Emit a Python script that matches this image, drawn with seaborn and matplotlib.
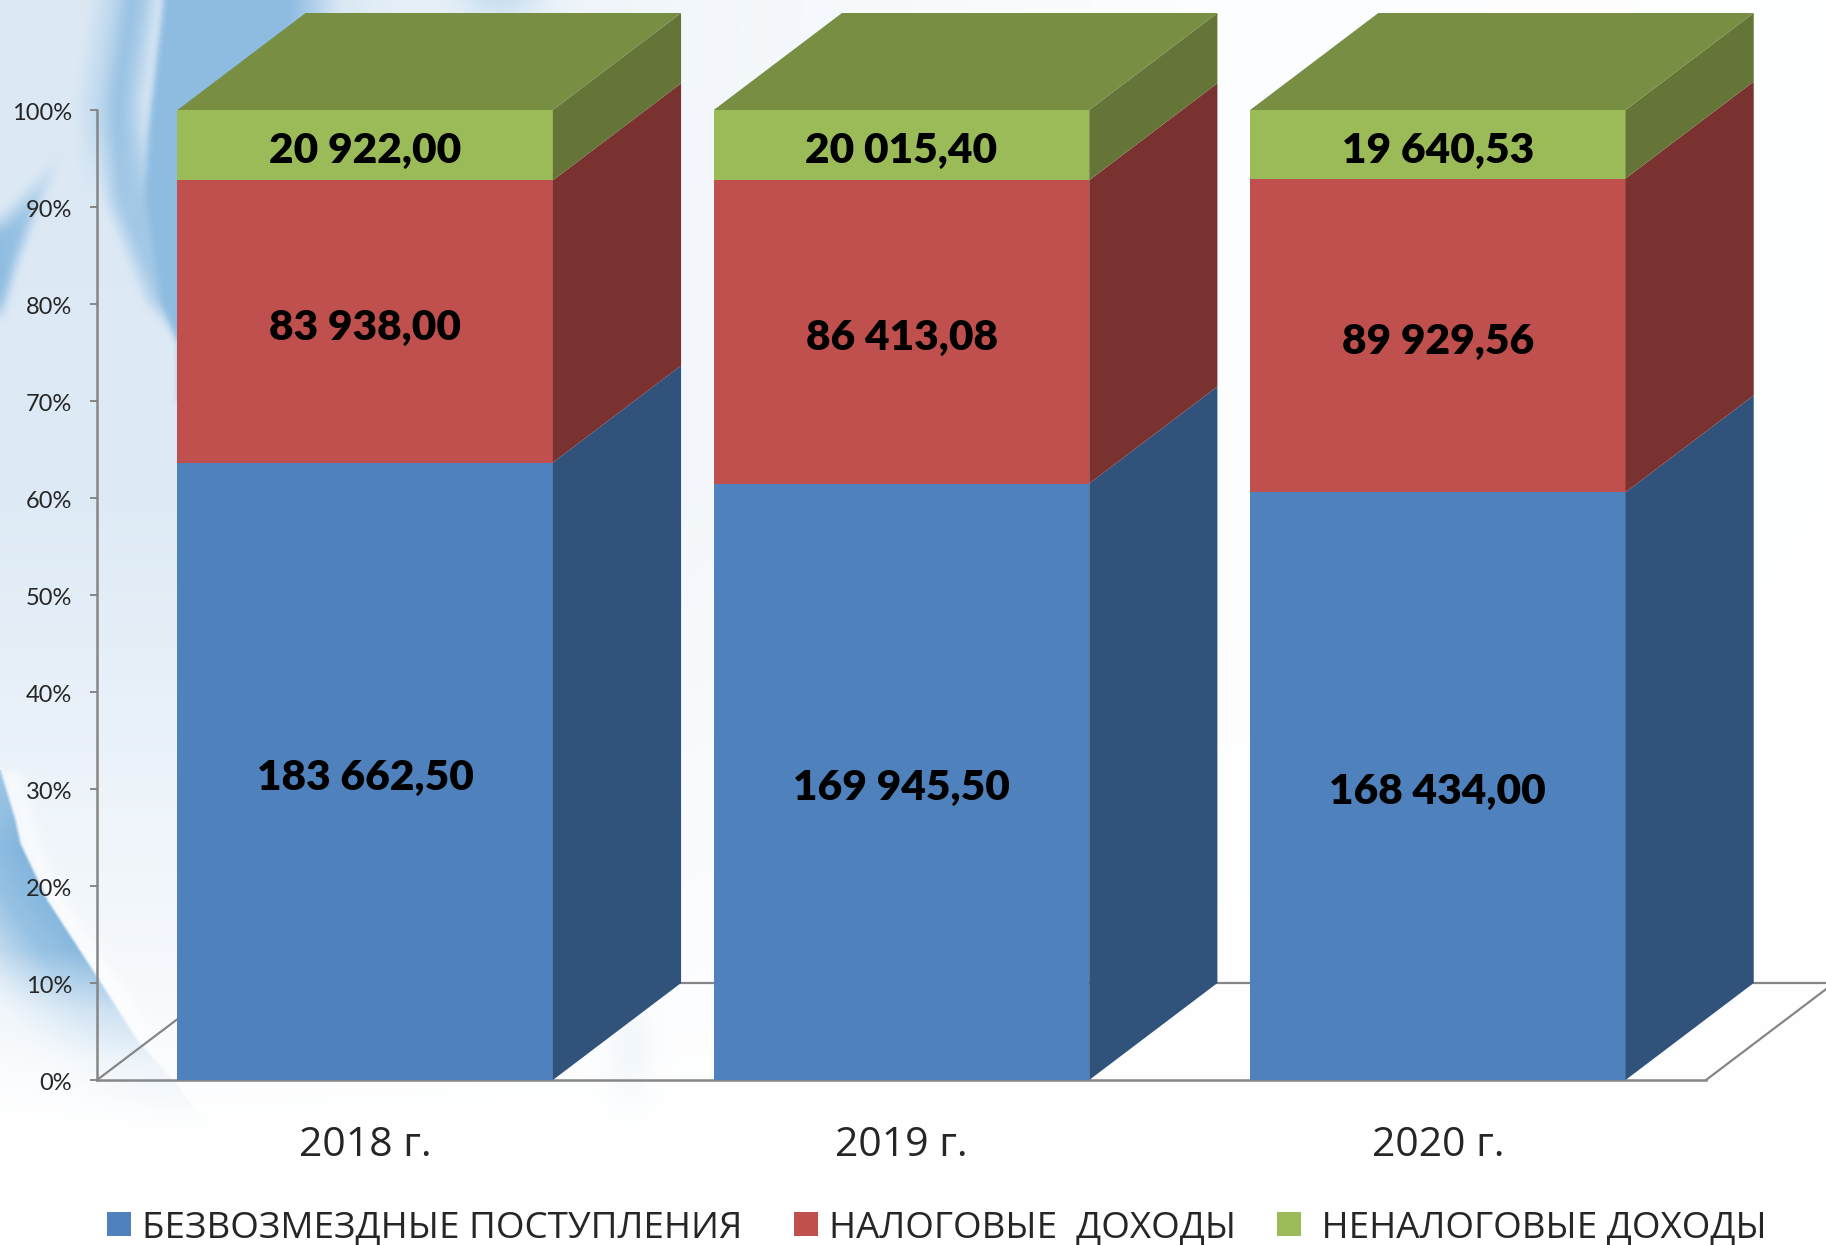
import numpy as np
import pandas as pd
import matplotlib
matplotlib.use("Agg")
import matplotlib.pyplot as plt
import seaborn as sns
from matplotlib.colors import to_rgb
from matplotlib.patches import Patch
from matplotlib.transforms import ScaledTranslation

# Values from the chart (thousand rubles)
years = ["2018 г.", "2019 г.", "2020 г."]
grants = [183662.50, 169945.50, 168434.00]
tax = [83938.00, 86413.08, 89929.56]
non_tax = [20922.00, 20015.40, 19640.53]
grant_labels = ["183 662,50", "169 945,50", "168 434,00"]
tax_labels = ["83 938,00", "86 413,08", "89 929,56"]
non_tax_labels = ["20 922,00", "20 015,40", "19 640,53"]
series_names = ["БЕЗВОЗМЕЗДНЫЕ ПОСТУПЛЕНИЯ", "НАЛОГОВЫЕ  ДОХОДЫ", " НЕНАЛОГОВЫЕ ДОХОДЫ"]

front_colors = ["#4F81BD", "#C0504D", "#9BBB59"]
side_colors = ["#31527A", "#7A3230", "#647537"]
top_color = "#788F43"
axis_color = "#868686"

bar_width = 0.7
depth_x = 0.239
depth_y = 10

W, H = 1826, 1245
sns.set_style("white")
plt.rcParams["font.family"] = ["Open Sans", "DejaVu Sans"]

# Stack as percent of the yearly total
df = pd.DataFrame({"year": years, "grants": grants, "tax": tax, "non_tax": non_tax})
cols = ["grants", "tax", "non_tax"]
shares = df[cols].div(df[cols].sum(axis=1), axis=0) * 100
tops = shares.cumsum(axis=1)
bottoms = tops - shares

fig = plt.figure(figsize=(W / 100, H / 100), dpi=100)


def blend(img, color, alpha):
    alpha = np.clip(alpha, 0, 1)[..., None]
    return img * (1 - alpha) + np.array(to_rgb(color)) * alpha


def soften(a, r):
    # box blur, run twice, only over the part of the slide where the swirl lives
    rows, columns = np.nonzero(a)
    top, bottom = max(rows.min() - 3 * r, 0), min(rows.max() + 3 * r, a.shape[0])
    left, right = max(columns.min() - 3 * r, 0), min(columns.max() + 3 * r, a.shape[1])
    part = a[top:bottom, left:right]
    kernel = np.ones(2 * r + 1) / (2 * r + 1)
    for _ in range(2):
        part = np.apply_along_axis(lambda v: np.convolve(np.pad(v, r, mode="edge"), kernel, mode="valid"), 0, part)
        part = np.apply_along_axis(lambda v: np.convolve(np.pad(v, r, mode="edge"), kernel, mode="valid"), 1, part)
    out = np.zeros_like(a)
    out[top:bottom, left:right] = part
    return out


# Slide background: pale wash with blue swirls, all in pixel coordinates
def make_background():
    y, x = np.mgrid[0:H, 0:W].astype(float)
    img = np.ones((H, W, 3))
    wash = np.interp(x, [0, 178, 680, 1200, 1826], [1, 1, 0.35, 0.08, 0.03])
    wash = wash * np.interp(y, [0, 500, 700, 950, 1130], [1, 0.95, 0.65, 0.3, 0])
    img = blend(img, "#DCE9F5", wash)

    # crescent at the top left
    left_edge = np.interp(y, [0, 100, 200, 300, 345, 400], [112, 97, 100, 140, 178, 230])
    inner_edge = np.interp(y, [0, 130, 200, 300, 345], [163, 148, 145, 160, 178])
    d = x - left_edge
    ridge = np.interp(d, [-25, 0, 20, 32, 48], [0, 0.35, 0.85, 0.6, 0.06])
    streak = np.interp(y, [0, 130, 200], [1, 0.9, 0])
    between = ridge * streak + (1 - streak) * 0.7 * np.clip(d / 20, 0, 1)
    main = np.interp(x, [0, 290, 340, 400], [0.95, 0.95, 0.1, 0])
    crescent = np.where(x < inner_edge, between, main)
    crescent = np.where(y > 400, 0, crescent)
    img = blend(img, "#8ABAE0", soften(crescent, 3))

    # light band above the first bar
    img = blend(img, "#A9CDE8", 0.5 * np.exp(-(((x - 500) / 40) ** 2)) * np.clip((40 - y) / 40, 0, 1))

    # wing at the left edge
    upper = np.interp(x, [0, 70], [212, 140])
    lower = np.interp(x, [0, 15, 35, 70], [320, 270, 215, 140])
    wing = np.clip((y - upper) / 25, 0, 1) * np.clip((lower - y) / 12, 0, 1) * np.clip(1 - x / 75, 0, 1) ** 0.5
    img = blend(img, "#8ABAE0", soften(wing * 0.95, 5))

    # arc at the bottom left
    arc_x = np.interp(y, [770, 820, 843, 900, 977, 1040, 1080, 1123], [0, 15, 20, 47, 97, 137, 173, 207])
    dist = arc_x - x
    strength = np.interp(y, [770, 850, 950, 1010, 1060, 1130], [0.7, 0.95, 0.9, 0.35, 0.12, 0])
    arc = np.interp(dist, [-2, 2, 40, 110, 200], [0, 1, 0.85, 0.2, 0]) * strength
    arc = np.where(y < 770, 0, arc)
    halo = np.exp(-(((x - arc_x - 10) / 10) ** 2)) * np.where((y > 770) & (y < 1040), 0.6, 0)
    img = blend(img, "#FFFFFF", soften(halo, 3))
    img = blend(img, "#7DB2DC", arc)

    # faint streak on the floor between the first two bars
    floor = 0.09 * np.exp(-(((x - 630) / 22) ** 2)) * np.exp(-(((y - 1050) / 50) ** 2))
    return blend(img, "#8ABAE0", floor)


bg = fig.add_axes([0, 0, 1, 1], zorder=0)
bg.imshow(make_background(), aspect="auto")
bg.axis("off")

ax = fig.add_axes([97 / W, 1 - 1080 / H, (1706 - 97) / W, 970 / H], zorder=1)
ax.patch.set_alpha(0)

# Floor outline behind the bars
floor_x = [-0.5, -0.5 + depth_x, 2.5 + depth_x, 2.5]
floor_y = [0, depth_y, depth_y, 0]
ax.plot(floor_x, floor_y, color=axis_color, lw=1.6, clip_on=False, zorder=1)

# Front faces: layered bars, tallest first
for col, color in reversed(list(zip(cols, front_colors))):
    sns.barplot(x=df["year"], y=tops[col], color=color, width=bar_width, saturation=1,
                linewidth=0, ax=ax, zorder=3)

# Right side and top faces
for i in range(len(years)):
    x0 = i + bar_width / 2
    for col, color in zip(cols, side_colors):
        lo = bottoms[col].iloc[i]
        hi = tops[col].iloc[i]
        ax.fill([x0, x0 + depth_x, x0 + depth_x, x0], [lo, lo + depth_y, hi + depth_y, hi],
                color=color, lw=0, clip_on=False, zorder=3)
    x1 = i - bar_width / 2
    ax.fill([x1, x1 + depth_x, x0 + depth_x, x0], [100, 100 + depth_y, 100 + depth_y, 100],
            color=top_color, lw=0, clip_on=False, zorder=3)

# Value labels
for col, labels in zip(cols, [grant_labels, tax_labels, non_tax_labels]):
    for i, label in enumerate(labels):
        mid = (bottoms[col].iloc[i] + tops[col].iloc[i]) / 2
        ax.annotate(label, (i, mid), xytext=(0, -4.5), textcoords="offset points",
                    ha="center", va="center", fontsize=30.5, fontweight="heavy",
                    family="Lato", color="black", zorder=5)

ax.set_xlim(-0.5, 2.5)
ax.set_ylim(0, 100)
ax.set_xlabel("")
ax.set_ylabel("")
ax.set_yticks(range(0, 101, 10))
ax.set_yticklabels([f"{v}%" for v in range(0, 101, 10)], family="Lato", fontsize=17)
ax.tick_params(axis="y", left=True, length=5, width=1.4, color=axis_color, pad=13)
ax.tick_params(axis="x", bottom=False, pad=29.5)
nudge = ScaledTranslation(0, -1 / 72, fig.dpi_scale_trans)
for label in ax.get_yticklabels():
    label.set_transform(label.get_transform() + nudge)
for label in ax.get_xticklabels():
    label.set_fontsize(29.5)
    label.set_family("Open Sans")
sns.despine(ax=ax, top=True, right=True)
for side in ["left", "bottom"]:
    ax.spines[side].set_color(axis_color)
    ax.spines[side].set_linewidth(1.8)
    ax.spines[side].set_zorder(2)

# Two legends, the gap before the last entry differs from the first one
handles = [Patch(facecolor=c, edgecolor="none", label=n) for c, n in zip(front_colors, series_names)]
legend_opts = dict(loc="lower left", frameon=False, fontsize=26.5, handlelength=0.65, handleheight=0.65,
                   handletextpad=0.3, columnspacing=1.41, borderaxespad=0, borderpad=0)
fig.legend(handles=handles[:2], bbox_to_anchor=(107 / W, 1 - 1246 / H), ncol=2, **legend_opts)
fig.legend(handles=handles[2:], bbox_to_anchor=(1277 / W, 1 - 1246 / H), ncol=1, **legend_opts)

fig.savefig("out.png", dpi=100)
